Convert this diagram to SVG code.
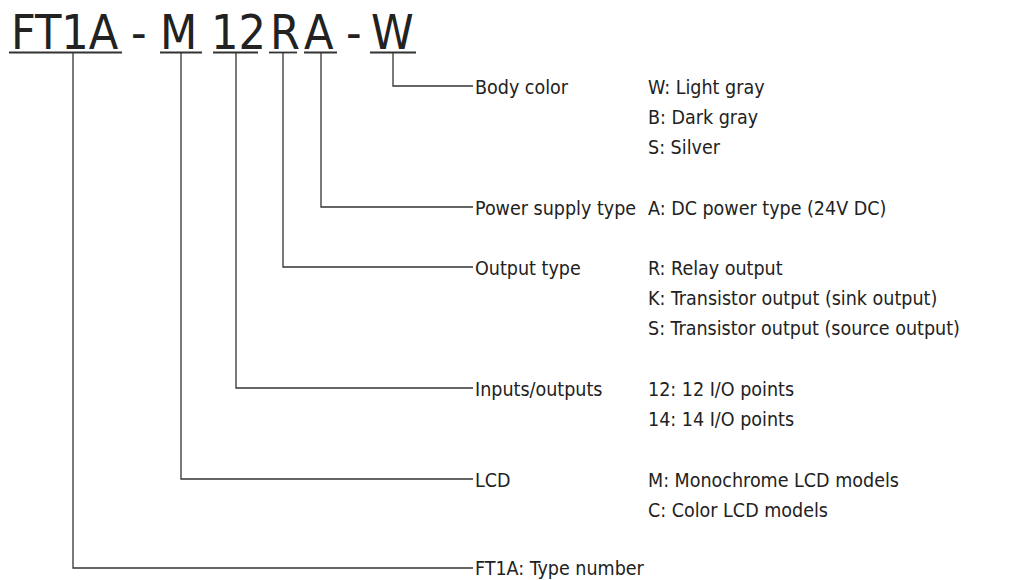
<svg xmlns="http://www.w3.org/2000/svg" width="1010" height="580" viewBox="0 0 1010 580">
<style>
.h{font-family:"DejaVu Sans Condensed","DejaVu Sans",sans-serif;font-size:48px;fill:#222}
.t{font-family:"DejaVu Sans Condensed","DejaVu Sans",sans-serif;font-size:19.5px;fill:#222}
.u{stroke:#333;stroke-width:1.8;fill:none}
.c{stroke:#333;stroke-width:1.3;fill:none}
</style>
<rect width="1010" height="580" fill="#fff"/>
<g id="code">
<text class="h" x="11" y="49">FT1A</text>
<text class="h" x="131" y="49">-</text>
<text class="h" x="160" y="49">M</text>
<text class="h" x="211" y="49">12</text>
<text class="h" x="270" y="49">R</text>
<text class="h" x="304" y="49">A</text>
<text class="h" x="346" y="49">-</text>
<text class="h" x="371" y="49">W</text>
<line class="u" x1="9" y1="52.5" x2="122" y2="52.5"/>
<line class="u" x1="160" y1="52.5" x2="202" y2="52.5"/>
<line class="u" x1="213" y1="52.5" x2="258" y2="52.5"/>
<line class="u" x1="269" y1="52.5" x2="297" y2="52.5"/>
<line class="u" x1="304" y1="52.5" x2="337" y2="52.5"/>
<line class="u" x1="370" y1="52.5" x2="416" y2="52.5"/>
</g>
<g id="connectors">
<path class="c" d="M393 53V86H473"/>
<path class="c" d="M321 53V207H473"/>
<path class="c" d="M283 53V267H473"/>
<path class="c" d="M236 53V388H473"/>
<path class="c" d="M181 53V479H473"/>
<path class="c" d="M73 53V568H473"/>
</g>
<g id="body-color">
<text class="t" x="475" y="94">Body color</text>
<text class="t" x="648" y="94">W: Light gray</text>
<text class="t" x="648" y="124">B: Dark gray</text>
<text class="t" x="648" y="154">S: Silver</text>
</g>
<g id="power-supply">
<text class="t" x="475" y="215">Power supply type</text>
<text class="t" x="648" y="215">A: DC power type (24V DC)</text>
</g>
<g id="output-type">
<text class="t" x="475" y="275">Output type</text>
<text class="t" x="648" y="275">R: Relay output</text>
<text class="t" x="648" y="305">K: Transistor output (sink output)</text>
<text class="t" x="648" y="335">S: Transistor output (source output)</text>
</g>
<g id="inputs-outputs">
<text class="t" x="475" y="396">Inputs/outputs</text>
<text class="t" x="648" y="396">12: 12 I/O points</text>
<text class="t" x="648" y="426">14: 14 I/O points</text>
</g>
<g id="lcd">
<text class="t" x="475" y="487">LCD</text>
<text class="t" x="648" y="487">M: Monochrome LCD models</text>
<text class="t" x="648" y="517">C: Color LCD models</text>
</g>
<g id="type-number">
<text class="t" x="475" y="575">FT1A: Type number</text>
</g>
</svg>
